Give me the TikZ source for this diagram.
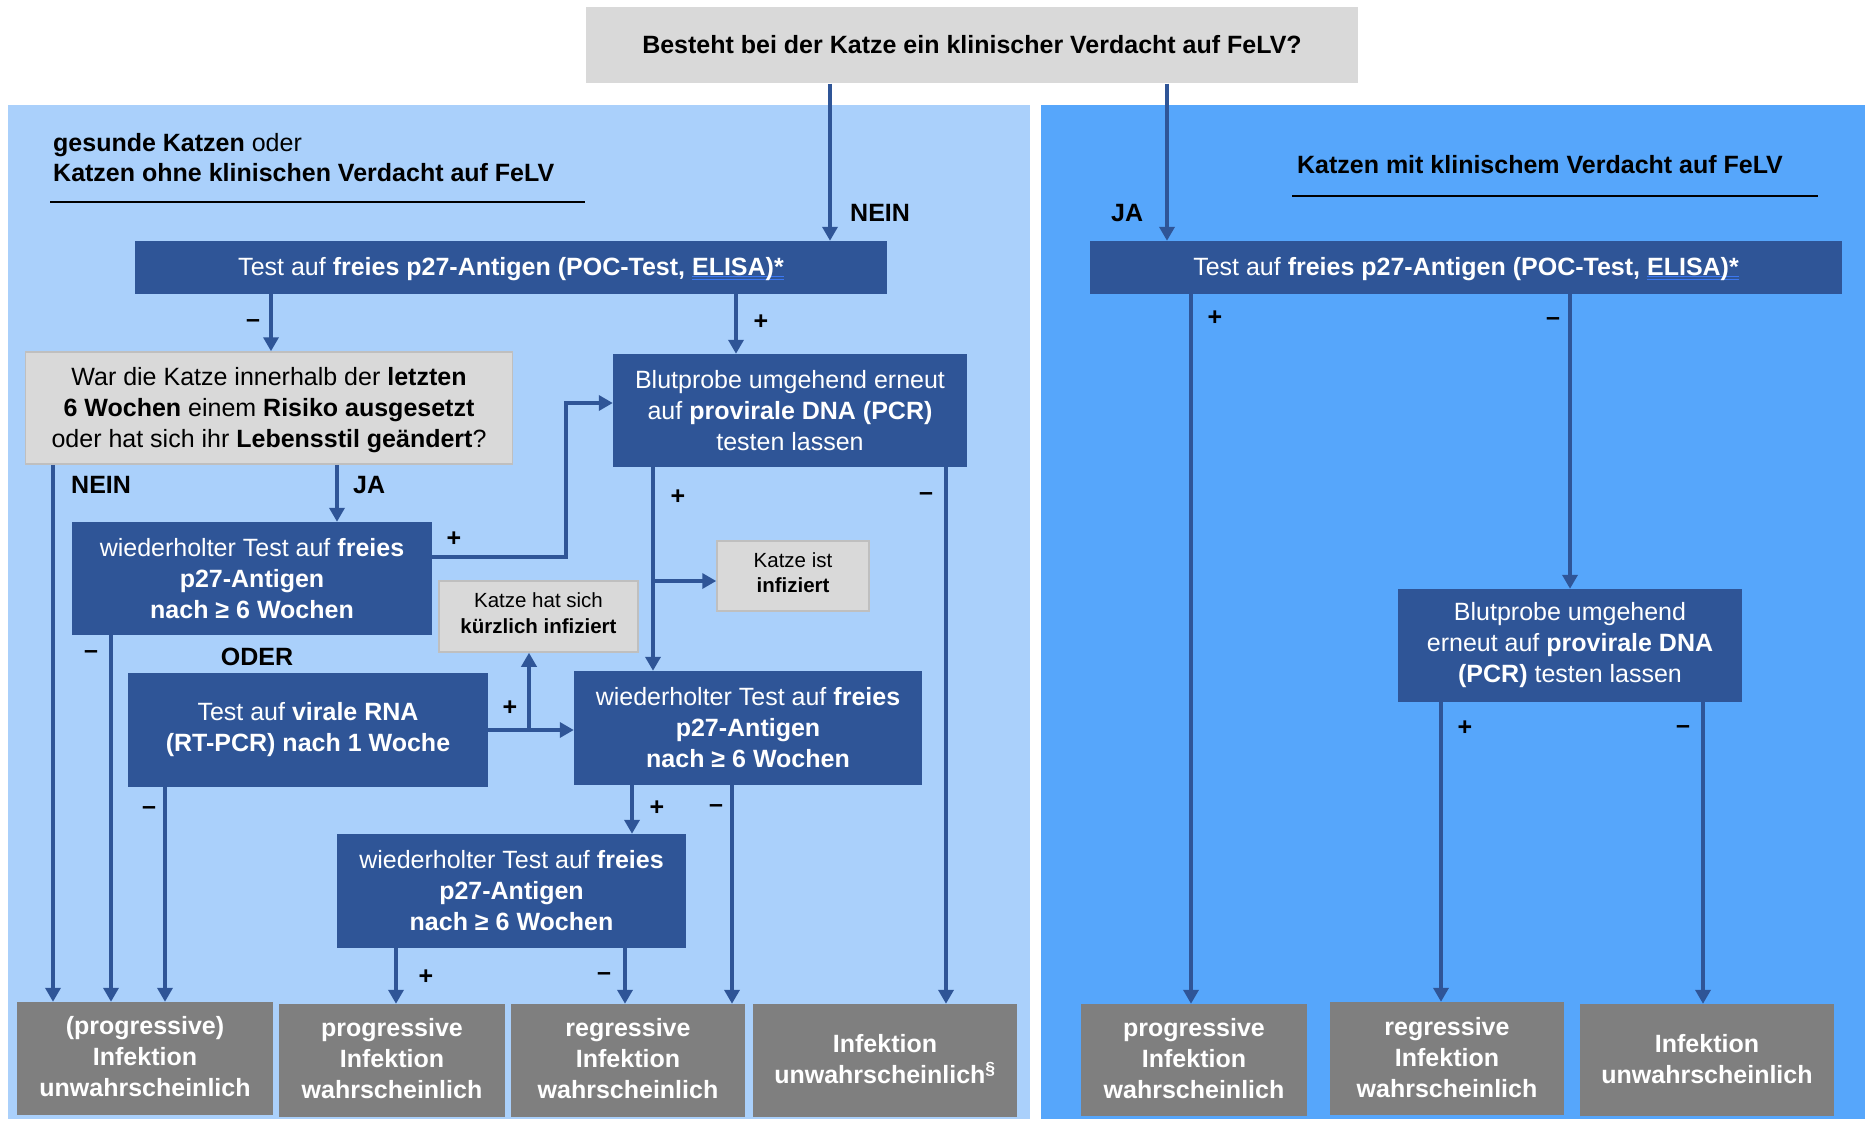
\documentclass[tikz,border=0pt]{standalone}
\usepackage{fontspec}
\setmainfont{Liberation Sans}
\usetikzlibrary{arrows.meta,calc}
\definecolor{panelL}{HTML}{AAD0FB}
\definecolor{panelR}{HTML}{56A6FB}
\definecolor{boxblue}{HTML}{2F5597}
\definecolor{qgray}{HTML}{D9D9D9}
\definecolor{qborder}{HTML}{BFBFBF}
\definecolor{outgray}{HTML}{7F7F7F}
\definecolor{ulblue}{HTML}{3C78F0}
\newcommand\bigtxt{\fontsize{25}{31}\selectfont}
\newcommand\headtxt{\fontsize{25}{30}\selectfont}
\newcommand\smalltxt{\fontsize{20.5}{25.5}\selectfont}
\newcommand\ulblue[1]{\setbox0\hbox{#1}\rlap{\color{ulblue}\rule[-1.5pt]{\wd0}{1.3pt}}\rlap{\color{ulblue}\rule[-4.5pt]{\wd0}{1.3pt}}\box0}
\newcommand\dpx[1]{\rule[-#1]{0pt}{#1}}
\newcommand\htx[1]{\rule{0pt}{#1}}
\tikzset{
  dbox/.style={rectangle, fill=boxblue, text=white, align=center, inner sep=0pt, font=\bigtxt},
  gbox/.style={rectangle, fill=qgray, draw=qborder, line width=1.5pt, text=black, align=center, inner sep=0pt, font=\bigtxt},
  sbox/.style={gbox, font=\smalltxt},
  obox/.style={rectangle, fill=outgray, text=white, align=center, inner sep=0pt, font=\bigtxt\bfseries},
  arr/.style={draw=boxblue, line width=4pt, -{Triangle[length=14pt,width=15pt]}},
  lbl/.style={font=\bigtxt\bfseries, inner sep=0pt, text=black},
}
\begin{document}
\begin{tikzpicture}[x=1pt,y=-1pt]
\useasboundingbox (0,0) rectangle (1865,1121);
% panels
\fill[panelL] (8,105) rectangle (1030,1119);
\fill[panelR] (1041,105) rectangle (1865,1119);

% headers
\node[anchor=west, align=left, inner sep=0pt, font=\headtxt] (hL) at (53,158)
  {\textbf{gesunde Katzen} oder\\\textbf{Katzen ohne klinischen Verdacht auf FeLV}};
\draw[line width=2pt] (50,202) -- (585,202);
\node[inner sep=0pt, font=\headtxt\bfseries] (hR) at (1540,165) {Katzen mit klinischem Verdacht auf FeLV};
\draw[line width=2pt] (1292,196) -- (1818,196);

% nodes
\node[gbox, draw=none, minimum width=772pt, minimum height=76pt, font=\bigtxt\bfseries] (q0) at (972,45)
  {Besteht bei der Katze ein klinischer Verdacht auf FeLV?};
\node[dbox, minimum width=752pt, minimum height=53pt] (testL) at (511,267.5)
  {\htx{22pt}Test auf \textbf{freies p27-Antigen (POC-Test, \ulblue{ELISA)*}}};
\node[dbox, minimum width=752pt, minimum height=53pt] (testR) at (1466,267.5)
  {\htx{22pt}Test auf \textbf{freies p27-Antigen (POC-Test, \ulblue{ELISA)*}}};
\node[gbox, minimum width=487pt, minimum height=112pt] (Q) at (269,408)
  {\htx{23pt}War die Katze innerhalb der \textbf{letzten}\\\textbf{6 Wochen} einem \textbf{Risiko ausgesetzt}\\oder hat sich ihr \textbf{Lebensstil geändert}?};
\node[dbox, minimum width=354pt, minimum height=113pt] (blutL) at (790,410.5)
  {Blutprobe umgehend erneut\\auf \textbf{provirale DNA (PCR)}\\testen lassen};
\node[dbox, minimum width=360pt, minimum height=113pt] (w1) at (252,578.5)
  {wiederholter Test auf \textbf{freies}\\\textbf{p27-Antigen}\\\textbf{nach ≥ 6 Wochen}};
\node[sbox, minimum width=199pt, minimum height=71pt] (kurz) at (538.5,616.5)
  {Katze hat sich\\\textbf{kürzlich infiziert}\dpx{7pt}};
\node[sbox, minimum width=152pt, minimum height=70pt] (infiz) at (793,576)
  {Katze ist\\\textbf{infiziert}\dpx{7pt}};
\node[dbox, minimum width=360pt, minimum height=114pt] (rna) at (308,730)
  {Test auf \textbf{virale RNA}\\\textbf{(RT-PCR) nach 1 Woche}};
\node[dbox, minimum width=348pt, minimum height=114pt] (w2) at (748,728)
  {wiederholter Test auf \textbf{freies}\\\textbf{p27-Antigen}\\\textbf{nach ≥ 6 Wochen}};
\node[dbox, minimum width=349pt, minimum height=114pt] (w3) at (511.5,891)
  {wiederholter Test auf \textbf{freies}\\\textbf{p27-Antigen}\\\textbf{nach ≥ 6 Wochen}};
\node[obox, minimum width=256pt, minimum height=113pt] (O1) at (145,1058.5)
  {(progressive)\\Infektion\\unwahrscheinlich\dpx{5pt}};
\node[obox, minimum width=226pt, minimum height=113pt] (O2) at (392,1060.5)
  {progressive\\Infektion\\wahrscheinlich\dpx{5pt}};
\node[obox, minimum width=234pt, minimum height=113pt] (O3) at (628,1060.5)
  {regressive\\Infektion\\wahrscheinlich\dpx{5pt}};
\node[obox, minimum width=264pt, minimum height=113pt] (O4) at (885,1060.5)
  {Infektion\\unwahrscheinlich\textsuperscript{§}\dpx{3pt}};
\node[dbox, minimum width=344pt, minimum height=113pt] (blutR) at (1570,645.5)
  {Blutprobe umgehend\\erneut auf \textbf{provirale DNA}\\\textbf{(PCR)} testen lassen};
\node[obox, minimum width=226pt, minimum height=112pt] (R1) at (1194,1060)
  {progressive\\Infektion\\wahrscheinlich\dpx{3pt}};
\node[obox, minimum width=234pt, minimum height=113pt] (R2) at (1447,1058.5)
  {regressive\\Infektion\\wahrscheinlich\dpx{3pt}};
\node[obox, minimum width=254pt, minimum height=112pt] (R3) at (1707,1060)
  {Infektion\\unwahrscheinlich\dpx{3pt}};

% helper columns / rows
\coordinate (cA) at (830,0);
\coordinate (cB) at (1167,0);
\coordinate (cC) at (271,0);
\coordinate (cD) at (736,0);
\coordinate (cE) at (53,0);
\coordinate (cF) at (337,0);
\coordinate (cG) at (653,0);
\coordinate (cH) at (946,0);
\coordinate (cI) at (111,0);
\coordinate (cJ) at (165,0);
\coordinate (cK) at (632,0);
\coordinate (cL) at (732,0);
\coordinate (cM) at (396,0);
\coordinate (cN) at (625,0);
\coordinate (cO) at (1191,0);
\coordinate (cP) at (1570,0);
\coordinate (cQ) at (1441,0);
\coordinate (cR) at (1703,0);
\coordinate (colElbow) at (566,0);
\coordinate (colKurz) at (529,0);
\coordinate (rElbow) at (0,557);
\coordinate (rUp) at (0,403);
\coordinate (rInf) at (0,581);
\coordinate (rRna) at (0,730);

% connectors
\draw[arr] (q0.south -| cA) -- (testL.north -| cA);
\draw[arr] (q0.south -| cB) -- (testR.north -| cB);
\draw[arr] (testL.south -| cC) -- (Q.north -| cC);
\draw[arr] (testL.south -| cD) -- (blutL.north -| cD);
\draw[arr] (Q.south -| cE) -- (O1.north -| cE);
\draw[arr] (Q.south -| cF) -- (w1.north -| cF);
\draw[arr] (w1.east |- rElbow) -| (colElbow |- rUp) -- (blutL.west |- rUp);
\draw[arr] (blutL.south -| cG) -- (w2.north -| cG);
\draw[arr] (cG |- rInf) -- (infiz.west |- rInf);
\draw[arr] (blutL.south -| cH) -- (O4.north -| cH);
\draw[arr] (w1.south -| cI) -- (O1.north -| cI);
\draw[arr] (rna.east |- rRna) -- (w2.west |- rRna);
\draw[arr] (colKurz |- rRna) -- (kurz.south -| colKurz);
\draw[arr] (rna.south -| cJ) -- (O1.north -| cJ);
\draw[arr] (w2.south -| cK) -- (w3.north -| cK);
\draw[arr] (w2.south -| cL) -- (O3.north -| cL);
\draw[arr] (w3.south -| cM) -- (O2.north -| cM);
\draw[arr] (w3.south -| cN) -- (O3.north -| cN);
\draw[arr] (testR.south -| cO) -- (R1.north -| cO);
\draw[arr] (testR.south -| cP) -- (blutR.north -| cP);
\draw[arr] (blutR.south -| cQ) -- (R2.north -| cQ);
\draw[arr] (blutR.south -| cR) -- (R3.north -| cR);

% labels
\node[lbl, anchor=west] (l1) at (850,213) {NEIN};
\node[lbl, anchor=west] (l2) at (1111,213) {JA};
\node[lbl] (l3) at (253,324) {–};
\node[lbl] (l4) at (761,322) {+};
\node[lbl] (l5) at (1215,318) {+};
\node[lbl] (l6) at (1553,322) {–};
\node[lbl, anchor=west] (l7) at (71,485) {NEIN};
\node[lbl, anchor=west] (l8) at (353,485) {JA};
\node[lbl] (l9) at (454,539) {+};
\node[lbl] (l10) at (678,497) {+};
\node[lbl] (l11) at (926,497) {–};
\node[lbl] (l12) at (91,655) {–};
\node[lbl] (l13) at (257,657) {ODER};
\node[lbl] (l14) at (510,708) {+};
\node[lbl] (l15) at (149,811) {–};
\node[lbl] (l16) at (657,808) {+};
\node[lbl] (l17) at (716,809) {–};
\node[lbl] (l18) at (426,977) {+};
\node[lbl] (l19) at (604,977) {–};
\node[lbl] (l20) at (1465,728) {+};
\node[lbl] (l21) at (1683,730) {–};
\end{tikzpicture}
\end{document}
